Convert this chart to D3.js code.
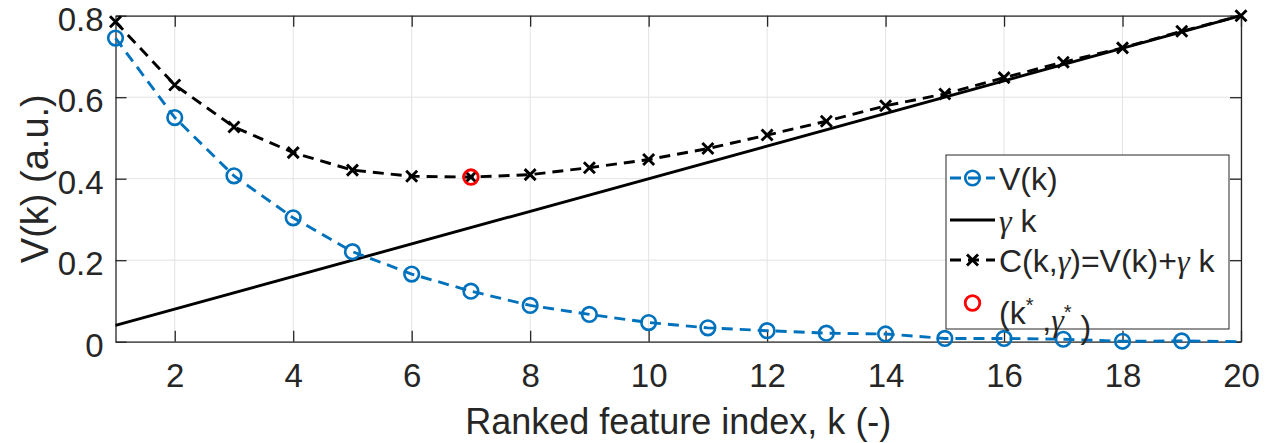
<!DOCTYPE html>
<html><head><meta charset="utf-8">
<script src="https://cdn.jsdelivr.net/npm/d3@7"></script>
<style>
html,body{margin:0;padding:0;background:#fff;}
svg text{font-family:"Liberation Sans",Arial,Helvetica,sans-serif;fill:#262626;}
</style></head>
<body><svg id="chart" width="1270" height="443"></svg>
<script>
// ---- data ----
const kValues = [1,2,3,4,5,6,7,8,9,10,11,12,13,14,15,16,17,18,19,20];
const vValues = [0.745,0.550,0.407,0.304,0.221,0.166,0.124,0.089,0.067,0.047,0.034,0.027,0.021,0.019,0.008,0.008,0.006,0.001,0.002,0.000];
const cValues = [0.785,0.630,0.527,0.464,0.421,0.406,0.404,0.410,0.427,0.447,0.474,0.507,0.541,0.579,0.608,0.648,0.686,0.721,0.762,0.800];
const gammaLineK = [1,20];
const gammaLineV = [0.04,0.80];
const optimumK = [7];
const optimumC = [0.404];
const vMarkerCount = 19;
const xTicks = [2,4,6,8,10,12,14,16,18,20];
const yTicks = [0,0.2,0.4,0.6,0.8];
const yTickLabels = ["0","0.2","0.4","0.6","0.8"];
const xLabel = "Ranked feature index, k (-)";
const yLabel = "V(k) (a.u.)";

const W = 1270, H = 443;
const m = {left:115.5, right:29, top:15.7, bottom:101.3};
const svg = d3.select("#chart");
const x = d3.scaleLinear().domain([1,20]).range([m.left, W-m.right]);
const y = d3.scaleLinear().domain([0,0.8]).range([H-m.bottom, m.top]);
const axisCol = "#262626";
const blue = "#0072BD";

// grid
const g = svg.append("g");
g.selectAll(".gx").data(xTicks).join("line")
  .attr("x1",d=>x(d)).attr("x2",d=>x(d)).attr("y1",y(0)).attr("y2",y(0.8))
  .attr("stroke","#e3e3e3").attr("stroke-width",1);
g.selectAll(".gy").data(yTicks).join("line")
  .attr("x1",x(1)).attr("x2",x(20)).attr("y1",d=>y(d)).attr("y2",d=>y(d))
  .attr("stroke","#e3e3e3").attr("stroke-width",1);

// axes (ticks inward)
const tl = 11;
const xAxB = d3.axisBottom(x).tickValues(xTicks).tickSizeInner(-tl).tickSizeOuter(0).tickFormat(d=>d);
const xAxT = d3.axisTop(x).tickValues(xTicks).tickSizeInner(-tl).tickSizeOuter(0).tickFormat("");
const yAxL = d3.axisLeft(y).tickValues(yTicks).tickSizeInner(-tl).tickSizeOuter(0).tickFormat((d,i)=>yTickLabels[i]);
const yAxR = d3.axisRight(y).tickValues(yTicks).tickSizeInner(-tl).tickSizeOuter(0).tickFormat("");
function styleAxis(sel){
  sel.select(".domain").attr("stroke",axisCol).attr("stroke-width",1.3);
  sel.selectAll(".tick line").attr("stroke",axisCol).attr("stroke-width",1.3);
  sel.selectAll(".tick text").attr("fill",axisCol).style("font-size","33px").style("font-family",'"Liberation Sans",Arial,sans-serif');
}
const axB = svg.append("g").attr("transform",`translate(0,${y(0)})`).call(xAxB).call(styleAxis);
axB.selectAll(".tick text").attr("dy",null).attr("y",45);
const axT = svg.append("g").attr("transform",`translate(0,${y(0.8)})`).call(xAxT).call(styleAxis);
const axL = svg.append("g").attr("transform",`translate(${x(1)},0)`).call(yAxL).call(styleAxis);
axL.selectAll(".tick text").attr("x",-12).attr("dy","14.5px");
const axR = svg.append("g").attr("transform",`translate(${x(20)},0)`).call(yAxR).call(styleAxis);

// labels
svg.append("text").attr("x",(x(1)+x(20))/2).attr("y",434).attr("text-anchor","middle")
  .style("font-size","36px").text(xLabel);
svg.append("text").attr("transform",`translate(48,${(y(0)+y(0.8))/2}) rotate(-90)`)
  .attr("text-anchor","middle").style("font-size","38px").text(yLabel);

// series
const plot = svg.append("g");
const vData = kValues.map((k,i)=>({k,v:vValues[i]}));
const cData = kValues.map((k,i)=>({k,v:cValues[i]}));
const line = d3.line().x(d=>x(d.k)).y(d=>y(d.v));
const dash = "11,7";
const lw = 2.9;

plot.append("path").datum(gammaLineK.map((k,i)=>({k,v:gammaLineV[i]})))
  .attr("d",line).attr("fill","none").attr("stroke","#000").attr("stroke-width",lw);

plot.append("path").datum(vData).attr("d",line).attr("fill","none")
  .attr("stroke",blue).attr("stroke-width",lw).attr("stroke-dasharray",dash);
plot.selectAll(".vm").data(vData.slice(0,vMarkerCount)).join("circle")
  .attr("cx",d=>x(d.k)).attr("cy",d=>y(d.v)).attr("r",7.3)
  .attr("fill","none").attr("stroke",blue).attr("stroke-width",2.6);

plot.append("path").datum(cData).attr("d",line).attr("fill","none")
  .attr("stroke","#000").attr("stroke-width",lw).attr("stroke-dasharray",dash);
const xs = 5.5;
function cross(sel, cx, cy){
  sel.append("path").attr("d",`M${cx-xs},${cy-xs}L${cx+xs},${cy+xs}M${cx-xs},${cy+xs}L${cx+xs},${cy-xs}`)
   .attr("stroke","#000").attr("stroke-width",2.9).attr("fill","none");
}
cData.forEach(d=>cross(plot, x(d.k), y(d.v)));

plot.selectAll(".opt").data(optimumK.map((k,i)=>({k,v:optimumC[i]}))).join("circle")
  .attr("cx",d=>x(d.k)).attr("cy",d=>y(d.v)).attr("r",7.3)
  .attr("fill","none").attr("stroke","#ff0000").attr("stroke-width",2.8);

// legend
const lg = svg.append("g");
lg.append("rect").attr("x",946).attr("y",155).attr("width",283).attr("height",174)
  .attr("fill","#fff").attr("stroke",axisCol).attr("stroke-width",1);
const lx0 = 950, lx1 = 995, tx = 999;
const rows = [178,220,260,303];
const fs = "32px";
// V(k)
lg.append("line").attr("x1",lx0).attr("x2",lx1).attr("y1",rows[0]).attr("y2",rows[0])
  .attr("stroke",blue).attr("stroke-width",lw).attr("stroke-dasharray",dash);
lg.append("circle").attr("cx",(lx0+lx1)/2).attr("cy",rows[0]).attr("r",7.3).attr("fill","none").attr("stroke",blue).attr("stroke-width",2.6);
lg.append("text").attr("x",tx).attr("y",rows[0]).attr("dy","0.36em").style("font-size",fs).text("V(k)");
// gamma k
lg.append("line").attr("x1",lx0).attr("x2",lx1).attr("y1",rows[1]).attr("y2",rows[1])
  .attr("stroke","#000").attr("stroke-width",lw);
const t2 = lg.append("text").attr("x",tx).attr("y",rows[1]).attr("dy","0.36em").style("font-size",fs);
t2.append("tspan").style("font-family","Liberation Serif, serif").style("font-style","italic").text("γ");
t2.append("tspan").text(" k");
// C
lg.append("line").attr("x1",lx0).attr("x2",lx1).attr("y1",rows[2]).attr("y2",rows[2])
  .attr("stroke","#000").attr("stroke-width",lw).attr("stroke-dasharray",dash);
cross(lg,(lx0+lx1)/2,rows[2]);
const t3 = lg.append("text").attr("x",tx).attr("y",rows[2]).attr("dy","0.36em").style("font-size",fs);
t3.append("tspan").text("C(k,");
t3.append("tspan").style("font-family","Liberation Serif, serif").style("font-style","italic").text("γ");
t3.append("tspan").text(")=V(k)+");
t3.append("tspan").style("font-family","Liberation Serif, serif").style("font-style","italic").text("γ");
t3.append("tspan").text(" k");
// optimum
lg.append("circle").attr("cx",(lx0+lx1)/2).attr("cy",rows[3]).attr("r",7.3).attr("fill","none").attr("stroke","#ff0000").attr("stroke-width",2.8);
const t4 = lg.append("text").attr("x",tx).attr("y",rows[3]+9).attr("dy","0.36em").style("font-size",fs);
t4.append("tspan").text("(k");
t4.append("tspan").attr("dy","-0.6em").style("font-size","20px").text("*");
t4.append("tspan").attr("dy","0.6em").text(" ,");
t4.append("tspan").style("font-family","Liberation Serif, serif").style("font-style","italic").text("γ");
t4.append("tspan").attr("dy","-0.6em").style("font-size","20px").text("*");
t4.append("tspan").attr("dy","0.6em").text(" )");
</script></body></html>
